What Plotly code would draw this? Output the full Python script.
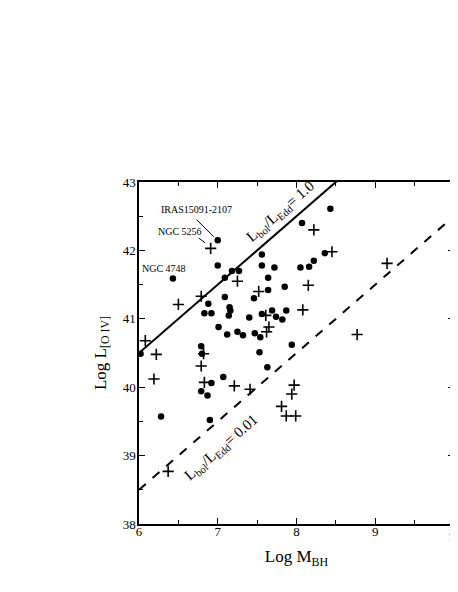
import plotly.graph_objects as go

# Seyfert sample: filled circles and plus signs
circ_mbh = [6.02, 6.43, 7.00, 7.00, 7.18, 7.27, 7.09, 7.09, 6.88, 6.83, 6.92, 7.15,
            7.16, 7.14, 7.01, 7.12, 7.25, 7.32, 7.40, 7.46, 7.47, 7.54, 7.56, 7.56,
            7.56, 7.64, 7.64, 7.69, 7.72, 7.74, 7.82, 7.85, 7.87, 7.94, 6.79, 6.80,
            7.53, 7.63, 8.05, 8.07, 8.16, 8.22, 8.36, 8.43, 7.07, 6.79, 6.92, 6.87,
            6.90, 6.28]
circ_loiv = [40.49, 41.59, 42.15, 41.78, 41.70, 41.70, 41.60, 41.32, 41.22, 41.08, 41.08, 41.17,
             41.12, 41.05, 40.88, 40.77, 40.81, 40.76, 41.02, 41.30, 40.79, 40.73, 41.94, 41.78,
             41.07, 41.60, 41.42, 41.12, 41.75, 41.03, 40.99, 41.47, 41.12, 40.62, 40.60, 40.49,
             40.51, 40.29, 41.75, 42.40, 41.76, 41.85, 41.96, 42.61, 40.15, 39.94, 40.06, 39.88,
             39.52, 39.57]

plus_mbh = [6.08, 6.22, 6.50, 6.79, 6.91, 6.82, 7.25, 7.52, 7.61, 7.65, 7.62, 8.22,
            8.45, 8.15, 8.08, 9.15, 8.77, 6.19, 6.79, 6.83, 7.21, 7.41, 7.97, 7.94,
            7.81, 7.87, 7.99, 6.37]
plus_loiv = [40.68, 40.48, 41.21, 41.33, 42.03, 40.49, 41.55, 41.40, 41.05, 40.88, 40.81, 42.30,
             41.98, 41.49, 41.13, 41.81, 40.77, 40.12, 40.31, 40.07, 40.02, 39.97, 40.03, 39.90,
             39.72, 39.58, 39.58, 38.77]

# Eddington ratio lines: log L = log M + offset
line_x = [6, 10]
edd_offset_1 = 34.5
edd_offset_001 = 32.5

font_family = "Liberation Serif"

fig = go.Figure()

fig.add_trace(go.Scatter(
    x=line_x, y=[v + edd_offset_1 for v in line_x],
    mode="lines", line=dict(color="black", width=2), hoverinfo="skip"
))
fig.add_trace(go.Scatter(
    x=line_x, y=[v + edd_offset_001 for v in line_x],
    mode="lines", line=dict(color="black", width=2, dash="dash"), hoverinfo="skip"
))
fig.add_trace(go.Scatter(
    x=circ_mbh, y=circ_loiv, mode="markers",
    marker=dict(symbol="circle", size=6.5, color="black")
))
fig.add_trace(go.Scatter(
    x=plus_mbh, y=plus_loiv, mode="markers",
    marker=dict(symbol="cross-thin", size=8, line=dict(color="black", width=1.6))
))

# object labels and leader lines
fig.add_annotation(x=6.73, y=42.6, text="IRAS15091-2107", showarrow=False,
                   font=dict(family=font_family, size=10, color="black"))
fig.add_annotation(x=6.52, y=42.27, text="NGC 5256", showarrow=False,
                   font=dict(family=font_family, size=10, color="black"))
fig.add_annotation(x=6.32, y=41.74, text="NGC 4748", showarrow=False,
                   font=dict(family=font_family, size=10, color="black"))
fig.add_shape(type="line", x0=6.73, y0=42.45, x1=6.95, y1=42.20,
              line=dict(color="black", width=1))
fig.add_shape(type="line", x0=6.76, y0=42.18, x1=6.84, y1=42.11,
              line=dict(color="black", width=1))

# Eddington ratio labels
fig.add_annotation(x=7.80, y=42.56, text="L<sub>bol</sub>/L<sub>Edd</sub>= 1.0",
                   showarrow=False, textangle=-41,
                   font=dict(family=font_family, size=15, color="black"))
fig.add_annotation(x=7.05, y=39.11, text="L<sub>bol</sub>/L<sub>Edd</sub>= 0.01",
                   showarrow=False, textangle=-41,
                   font=dict(family=font_family, size=15, color="black"))

# last x tick label sits on the page edge and is cut by it
fig.add_annotation(x=10, y=0, xref="x", yref="paper", yanchor="top", yshift=-3,
                   text="10", showarrow=False,
                   font=dict(family=font_family, size=13, color="black"))

axis_style = dict(
    showline=True, linecolor="black", linewidth=1.5, mirror="allticks",
    ticks="inside", ticklen=6, tickwidth=1, tickcolor="black",
    showgrid=False, zeroline=False,
    tickfont=dict(family=font_family, size=13, color="black"),
    minor=dict(ticks="inside", ticklen=4, tickwidth=1, tickcolor="black", dtick=0.5),
)

fig.update_xaxes(range=[6, 10], dtick=1, ticklabelstandoff=-5,
                 title=dict(text="Log M<sub>BH</sub>", standoff=12,
                            font=dict(family=font_family, size=17, color="black")),
                 **axis_style)
fig.update_yaxes(range=[38, 43], dtick=1, ticklabelstandoff=-1,
                 title=dict(text="Log L<sub>[O IV]</sub>", standoff=12,
                            font=dict(family=font_family, size=17, color="black")),
                 **axis_style)

fig.update_layout(
    width=451, height=585,
    showlegend=False,
    plot_bgcolor="white", paper_bgcolor="white",
    margin=dict(l=131, r=3, t=174, b=69),
    font=dict(family=font_family),
)

fig.write_html("out.html")
